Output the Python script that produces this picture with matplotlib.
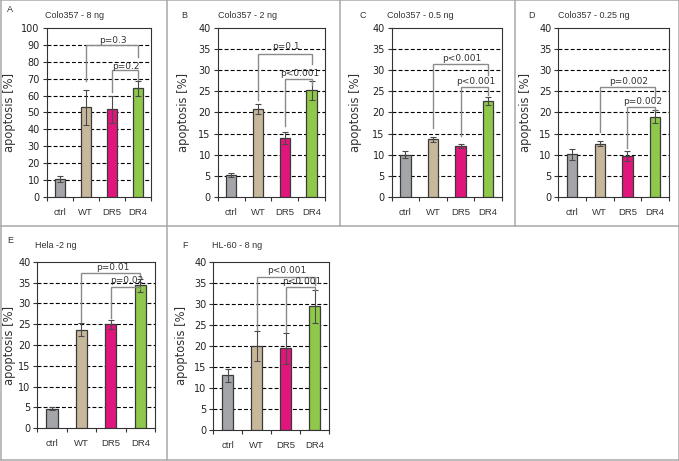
import matplotlib
matplotlib.use("Agg")
import matplotlib.pyplot as plt
from matplotlib.lines import Line2D

W, H = 679, 461
categories = ["ctrl", "WT", "DR5", "DR4"]
colors = ["#a3a5a8", "#c7b89c", "#e0167c", "#8fc84a"]

titles = ["Colo357 - 8 ng", "Colo357 - 2 ng", "Colo357 - 0.5 ng",
          "Colo357 - 0.25 ng", "Hela -2 ng", "HL-60 - 8 ng"]
letters = ["A", "B", "C", "D", "E", "F"]

vals_A = [10.5, 53.0, 52.0, 64.5]
err_A = [1.5, 10.2, 8.0, 4.5]
vals_B = [5.2, 20.8, 14.0, 25.3]
err_B = [0.5, 1.2, 1.4, 2.3]
vals_C = [10.0, 13.6, 12.0, 22.7]
err_C = [0.8, 0.6, 0.5, 1.0]
vals_D = [10.1, 12.6, 9.6, 19.0]
err_D = [1.3, 0.6, 1.2, 1.5]
vals_E = [4.7, 23.7, 25.0, 34.3]
err_E = [0.4, 1.6, 1.1, 1.5]
vals_F = [13.0, 20.0, 19.4, 29.4]
err_F = [1.6, 3.6, 3.6, 3.9]

ymax = [100, 40, 40, 40, 40, 40]
ystep = [10, 5, 5, 5, 5, 5]

# brackets: (left idx, right idx, top y, left bottom y, right bottom y, label, label y)
brackets_A = [(1, 3, 90.3, 69, 83, "p=0.3", 92.5), (2, 3, 75.2, 62, 69.5, "p=0.2", 77.5)]
brackets_B = [(1, 3, 34.0, 23, 31.5, "p=0.1", 35.6), (2, 3, 28.0, 16.7, 26.6, "p<0.001", 29.2)]
brackets_C = [(1, 3, 31.5, 16.2, 28.9, "p<0.001", 32.9), (2, 3, 26.0, 14.3, 24.2, "p<0.001", 27.4)]
brackets_D = [(1, 3, 26.0, 15.3, 23.8, "p=0.002", 27.4), (2, 3, 21.4, 11.5, 20.6, "p=0.002", 22.7)]
brackets_E = [(1, 3, 37.4, 25.6, 36.4, "p=0.01", 38.7), (2, 3, 34.0, 26.6, 33.4, "p=0.02", 35.4)]
brackets_F = [(1, 3, 36.4, 23.8, 34.4, "p<0.001", 37.8), (2, 3, 33.9, 23.4, 33.3, "p<0.001", 35.2)]

panel_vals = [vals_A, vals_B, vals_C, vals_D, vals_E, vals_F]
panel_errs = [err_A, err_B, err_C, err_D, err_E, err_F]
panel_brackets = [brackets_A, brackets_B, brackets_C, brackets_D, brackets_E, brackets_F]

# axes boxes in pixels: left, top, right, bottom
boxes = [(46.7, 28.3, 151, 196.7), (217.7, 28.3, 325, 196.7),
         (391.7, 28.3, 502, 196.7), (558.3, 28.3, 669, 196.7),
         (37.3, 261.7, 155, 428.3), (213.3, 261.7, 329, 430)]
letter_pos = [(7, 10), (181, 15), (360, 15), (528, 15), (7, 240), (182, 245)]
title_pos = [(45, 16), (218, 16), (387, 16), (558, 16), (35, 245), (212, 246)]
ylabel_x = [10, 184, 355, 525, 10, 182]

fig = plt.figure(figsize=(W / 100, H / 100), dpi=100)
plt.rcParams['font.family'] = ['DejaVu Sans']
narrow = ['Liberation Sans', 'DejaVu Sans']


def fx(x):
    return x / W


def fy(y):
    return 1 - y / H


# panel borders
bc = "#a8a8a8"
blw = 1.1
for (x0, y0, x1, y1) in [(0.5, 0.5, 678.5, 0.5), (0.5, 459.5, 678.5, 459.5),
                         (0.5, 0.5, 0.5, 459.5), (678.5, 0.5, 678.5, 459.5),
                         (0.5, 226, 678.5, 226), (167, 0.5, 167, 459.5),
                         (340, 0.5, 340, 226), (515, 0.5, 515, 226)]:
    fig.add_artist(Line2D([fx(x0), fx(x1)], [fy(y0), fy(y1)], color=bc, lw=blw,
                          transform=fig.transFigure))

for i in range(6):
    l, t, r, b = boxes[i]
    ax = fig.add_axes([fx(l), fy(b), fx(r) - fx(l), fy(t) - fy(b)])
    xs = [k + 0.5 for k in range(4)]
    ax.bar(xs, panel_vals[i], width=0.38, color=colors, edgecolor="#3a3a3a",
           linewidth=0.9, zorder=3)
    ax.errorbar(xs, panel_vals[i], yerr=panel_errs[i], fmt="none", ecolor="#4a4a4a",
                elinewidth=0.8, capsize=2.2, capthick=0.8, zorder=4)
    ax.set_xlim(0, 4)
    ax.set_ylim(0, ymax[i])
    ticks = list(range(0, ymax[i] + 1, ystep[i]))
    ax.set_yticks(ticks)
    for yv in ticks[1:-1]:
        ax.axhline(yv, color="black", lw=0.8, ls=(0, (3.5, 2)), zorder=1)
    ax.set_xticks(xs)
    ax.set_xticklabels(categories, fontsize=6.8, color="#333333", family=narrow)
    ax.set_xticks([0, 1, 2, 3, 4], minor=True)
    ax.tick_params(axis="x", which="major", length=0, pad=8)
    ax.tick_params(axis="x", which="minor", length=3, width=0.8, direction="out", color="#333333")
    ax.tick_params(axis="y", length=3, width=0.8, direction="out", labelsize=7,
                   color="#333333", labelcolor="#222222", pad=2)
    for sp in ax.spines.values():
        sp.set_color("#333333")
        sp.set_linewidth(0.8)
    # significance brackets
    for (li, ri, top, lb, rb, lab, ly) in panel_brackets[i]:
        xl, xr = xs[li], xs[ri]
        ax.plot([xl, xl, xr, xr], [lb, top, top, rb], color="#8a8a8a", lw=1.0,
                zorder=5, solid_joinstyle="miter")
        ax.text((xl + xr) / 2 + 0.05, ly, lab, ha="center", va="center", fontsize=6.5,
                color="#333333", zorder=6)
    fig.text(fx(ylabel_x[i]), fy((t + b) / 2), "apoptosis [%]", rotation=90,
             ha="center", va="center", fontsize=8.3, color="#333333")
    fig.text(fx(letter_pos[i][0]), fy(letter_pos[i][1]), letters[i], ha="left",
             va="center", fontsize=6.5, color="#333333", family=narrow)
    fig.text(fx(title_pos[i][0]), fy(title_pos[i][1]), titles[i], ha="left",
             va="center", fontsize=6.5, color="#333333", family=narrow)

fig.savefig("out.png", dpi=100)
